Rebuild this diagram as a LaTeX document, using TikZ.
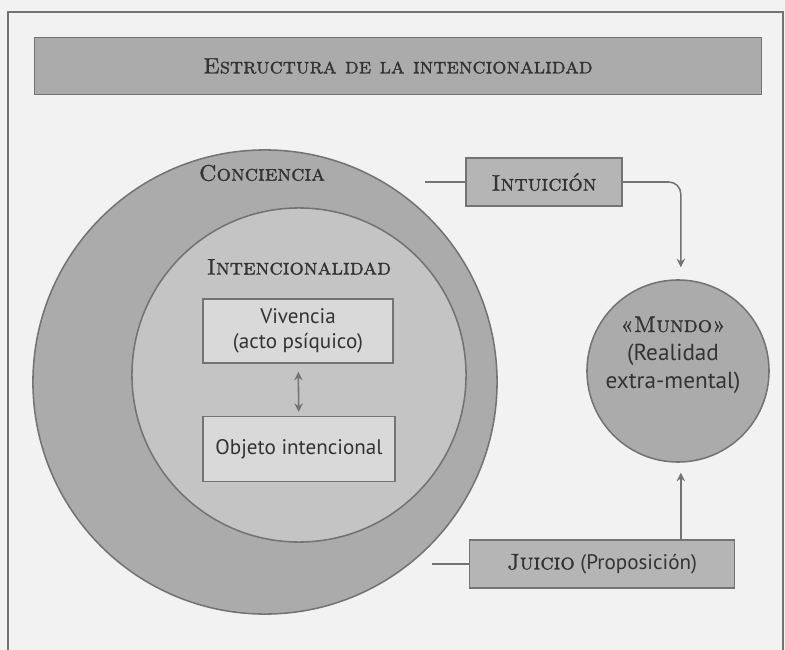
\documentclass[tikz,border=0pt]{standalone}
\usepackage{fontspec}
\newfontfamily\cajafont{PT Sans}
\newfontfamily\rotulofont{lmromancaps10-regular.otf}[FakeBold=1.2]
\usetikzlibrary{arrows.meta}
\definecolor{fondo}{gray}{0.95}
\definecolor{borde}{gray}{0.45}
\definecolor{texto}{gray}{0.2}
\definecolor{grisconc}{gray}{0.67}
\definecolor{grisint}{gray}{0.77}
\definecolor{griscaja}{gray}{0.85}
\definecolor{gristit}{gray}{0.67}
\definecolor{grisnodo}{gray}{0.71}

\begin{document}
\begin{tikzpicture}[x=0.025cm,y=-0.025cm,
	caja/.style={draw=borde,line width=1.1pt,fill=#1,inner sep=0pt,text=texto,align=center,
		font=\cajafont\fontsize{15}{18}\selectfont},
	rotulo/.style={text=texto,font=\rotulofont\fontsize{16}{18}\selectfont},
	conector/.style={draw=borde,line width=1.1pt},
	flecha/.style={conector,-{Stealth[length=6pt,width=6pt]}}]
			%%%%% START %%%%%
			
			\useasboundingbox (0,0) rectangle (785,650);
			\fill[fondo] (0,0) rectangle (785,650);
			\draw[borde,line width=1.1pt] (8,650) -- (8,12) -- (783,12) -- (783,650);
			
			\node[caja=gristit,minimum width=18.18cm,minimum height=1.42cm,
				font=\rotulofont\fontsize{15.8}{18}\selectfont] (titulo) at (398,66) {Estructura de la intencionalidad};
			
			\node[caja=grisconc,circle,minimum size=11.6cm] (conciencia) at (265,382) {};
			\node[caja=grisint,circle,minimum size=8.35cm] (intencional) at (299,375) {};
			\node[rotulo] (concienciatxt) at (262,173) {Conciencia};
			\node[rotulo] (intencionaltxt) at (299,267) {Intencionalidad};
			
			\node[caja=griscaja,minimum width=4.75cm,minimum height=1.6cm] (vivencia) at (298,331) {Vivencia\\(acto psíquico)};
			\node[caja=griscaja,minimum width=4.8cm,minimum height=1.62cm] (objeto) at (299,449) {Objeto intencional};
			\draw[conector,{Stealth[length=6pt,width=6pt]}-{Stealth[length=6pt,width=6pt]},shorten <=0.2cm,shorten >=0.1cm] (vivencia) -- (objeto);
			
			\node[caja=grisnodo,minimum width=3.9cm,minimum height=1.2cm,
				font=\rotulofont\fontsize{16}{18}\selectfont] (intuicion) at (544,182) {Intuición};
			\node[caja=grisnodo,minimum width=6.62cm,minimum height=1.2cm] (juicio) at (602,564)
				{{\rotulofont\fontsize{16}{18}\selectfont Juicio} (Proposición)};
			
			\node[caja=grisconc,circle,minimum size=4.55cm] (mundo) at (678,371) {};
			\node[caja=none,draw=none,fill=none,font=\cajafont\fontsize{16.5}{20}\selectfont] (mundotxt) at (673,355)
				{{\rotulofont\fontsize{16}{18}\selectfont «Mundo»}\\(Realidad\\extra-mental)};
			
			\coordinate (intizq) at (425,182);
			\coordinate (juiizq) at (432,564);
			\coordinate (mundoarr) at ([xshift=0.07cm]mundo.north);
			\coordinate (mundoab) at ([xshift=0.07cm]mundo.south);
			\draw[conector] (intuicion.west) -- (intizq);
			\draw[conector] (juicio.west) -- (juiizq);
			\draw[flecha,rounded corners=0.3cm,shorten >=0.3cm] (intuicion.east) -| (mundoarr);
			\draw[flecha,shorten >=0.25cm] (juicio.north -| mundoab) -- (mundoab);
			
			%%%%% END %%%%%
\end{tikzpicture}
\end{document}
